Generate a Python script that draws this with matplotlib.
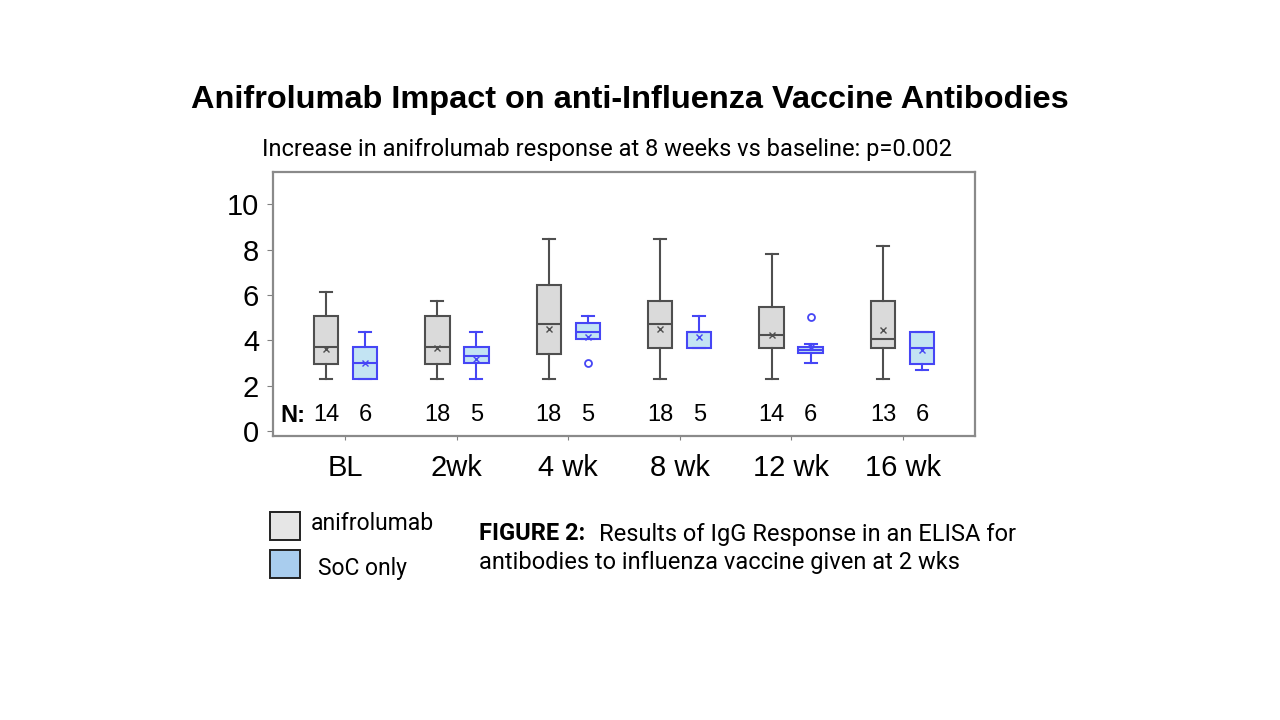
import matplotlib
matplotlib.use("Agg")
import matplotlib.pyplot as plt
from matplotlib.patches import Rectangle

# ---------------- data ----------------
categories = ["BL", "2wk", "4 wk", "8 wk", "12 wk", "16 wk"]

anif_whislo = [2.28, 2.28, 2.28, 2.28, 2.28, 2.28]
anif_q1     = [2.96, 2.96, 3.40, 3.68, 3.68, 3.68]
anif_med    = [3.69, 3.69, 4.72, 4.72, 4.24, 4.06]
anif_q3     = [5.08, 5.08, 6.45, 5.74, 5.45, 5.74]
anif_whishi = [6.12, 5.75, 8.48, 8.48, 7.80, 8.18]
anif_mean   = [3.60, 3.67, 4.49, 4.49, 4.24, 4.46]
anif_fliers = [[], [], [], [], [], []]

soc_whislo = [2.27, 2.28, 4.05, 3.68, 2.99, 2.69]
soc_q1     = [2.27, 2.99, 4.05, 3.68, 3.46, 2.96]
soc_med    = [2.99, 3.30, 4.36, 4.38, 3.58, 3.65]
soc_q3     = [3.69, 3.72, 4.75, 4.38, 3.72, 4.36]
soc_whishi = [4.36, 4.36, 5.08, 5.08, 3.83, 4.36]
soc_mean   = [3.00, 3.18, 4.16, 4.16, 3.70, 3.58]
soc_fliers = [[], [], [2.99], [], [5.05], []]

n_anif = [14, 18, 18, 18, 14, 13]
n_soc = [6, 5, 5, 5, 6, 6]

yticks = [0, 2, 4, 6, 8, 10]

# ---------------- figure ----------------
fig = plt.figure(figsize=(12.8, 7.2), dpi=100)
fig.patch.set_facecolor("white")
ax = fig.add_axes([0.2133, 0.3949, 0.5484, 0.3662])

gray_edge = "#4f4f4f"
gray_fill = "#dadada"
blue_edge = "#4646f5"
blue_fill = "#c3e4f3"

def make_stats(lo, q1, med, q3, hi, mean, fl):
    return [dict(whislo=a, q1=b, med=c, q3=d, whishi=e, mean=m, fliers=f)
            for a, b, c, d, e, m, f in zip(lo, q1, med, q3, hi, mean, fl)]

x = list(range(len(categories)))
off = 0.175
w = 0.22

def draw(stats, pos, edge, fill):
    ax.bxp(stats, positions=pos, widths=w, patch_artist=True, showmeans=True,
           boxprops=dict(facecolor=fill, edgecolor=edge, linewidth=1.5),
           medianprops=dict(color=edge, linewidth=1.5),
           whiskerprops=dict(color=edge, linewidth=1.5),
           capprops=dict(color=edge, linewidth=1.5),
           capwidths=w * 0.5,
           meanprops=dict(marker="x", markeredgecolor=edge, markersize=5,
                          markeredgewidth=1.0),
           flierprops=dict(marker="o", markerfacecolor="none",
                           markeredgecolor=edge, markersize=5,
                           markeredgewidth=1.3),
           manage_ticks=False)

draw(make_stats(anif_whislo, anif_q1, anif_med, anif_q3, anif_whishi, anif_mean, anif_fliers),
     [p - off for p in x], gray_edge, gray_fill)
draw(make_stats(soc_whislo, soc_q1, soc_med, soc_q3, soc_whishi, soc_mean, soc_fliers),
     [p + off for p in x], blue_edge, blue_fill)

ax.set_xlim(-0.65, 5.65)
ax.set_ylim(-0.21, 11.43)
ax.set_yticks(yticks)
ax.set_yticklabels([str(v) for v in yticks], fontsize=21, family="Liberation Sans")
ax.set_xticks(x)
ax.set_xticklabels(categories, fontsize=21, family="Liberation Sans")
ax.tick_params(axis="y", length=4, color="#808080", pad=6)
ax.tick_params(axis="x", length=3, color="#808080", pad=10)
for s in ax.spines.values():
    s.set_color("#8a8a8a")
    s.set_linewidth(1.6)

# N labels
ax.text(-0.58, 0.7, "N:", fontsize=17, fontweight="bold", family="Liberation Sans",
        ha="left", va="center")
for i in x:
    ax.text(i - off, 0.7, str(n_anif[i]), fontsize=17, family="Liberation Sans",
            ha="center", va="center")
    ax.text(i + off, 0.7, str(n_soc[i]), fontsize=17, family="Liberation Sans",
            ha="center", va="center")

# titles
fig.text(0.4922, 0.861, "Anifrolumab Impact on anti-Influenza Vaccine Antibodies",
         fontsize=23.4, fontweight="bold", family="Liberation Sans",
         ha="center", va="center")
fig.text(0.4746, 0.792, "Increase in anifrolumab response at 8 weeks vs baseline: p=0.002",
         fontsize=17, family="Roboto", ha="center", va="center")

# legend
fig.patches.append(Rectangle((270 / 1280, 1 - 540 / 720), 30 / 1280, 28 / 720,
                             transform=fig.transFigure, facecolor="#e6e6e6",
                             edgecolor="#222222", linewidth=1.4))
fig.patches.append(Rectangle((270 / 1280, 1 - 578 / 720), 30 / 1280, 28 / 720,
                             transform=fig.transFigure, facecolor="#a9cdee",
                             edgecolor="#222222", linewidth=1.4))
fig.text(311 / 1280, 1 - 523 / 720, "anifrolumab", fontsize=16.5, family="Roboto",
         ha="left", va="center")
fig.text(318 / 1280, 1 - 568 / 720, "SoC only", fontsize=16.5, family="Roboto",
         ha="left", va="center")

# caption
fig.text(479 / 1280, 1 - 534 / 720, "FIGURE 2:", fontsize=17, fontweight="bold",
         family="Roboto", ha="left", va="center")
fig.text(599 / 1280, 1 - 534 / 720, "Results of IgG Response in an ELISA for",
         fontsize=17, family="Roboto", ha="left", va="center")
fig.text(479 / 1280, 1 - 563 / 720, "antibodies to influenza vaccine given at 2 wks",
         fontsize=17, family="Roboto", ha="left", va="center")

fig.savefig("out.png", dpi=100, facecolor="white")
